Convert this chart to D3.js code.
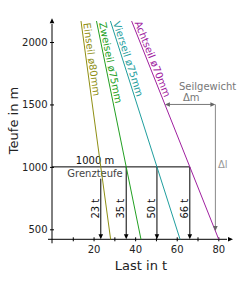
<!DOCTYPE html>
<meta charset="utf-8">
<style>
body { margin: 0; background: #fff; }
text { font-family: "DejaVu Sans", sans-serif; }
</style>
<svg width="250" height="292"></svg>
<script src="https://cdn.jsdelivr.net/npm/d3@7"></script>
<script>

// rope lines: load (t) at the top end and at the axis end
var ropes = ["Einseil ø80mm", "Zweiseil ø75mm", "Vierseil ø75mm", "Achtseil ø70mm"],
    colors = ["#8f8f14", "#22a022", "#1f9e9e", "#a020a0"],
    loadTop = [13.95, 21.4, 28.1, 38.3],
    loadBottom = [28.2, 42.8, 61.6, 80.2],
    depthTop = 2168,
    depthBottom = 420;

var limitDepth = 1000,
    limitLabels = ["23 t", "35 t", "50 t", "66 t"];

var yTicks = [500, 1000, 1500, 2000],
    xTicks = [10, 20, 30, 40, 50, 60, 70, 80],
    xLabels = [20, 40, 60, 80];

// slope triangle on the Achtseil line
var slopeDepth = 1500,
    slopeLoad = 78.6;

var svg = d3.select("svg");

var x = d3.scaleLinear().domain([0, 80]).range([52, 218.3]),
    y = d3.scaleLinear().domain([420, 2190]).range([239.3, 18.3]);

function loadAt(i, d) {
  return loadBottom[i] + (loadTop[i] - loadBottom[i]) * (d - depthBottom) / (depthTop - depthBottom);
}
function depthAt(i, l) {
  return depthBottom + (depthTop - depthBottom) * (l - loadBottom[i]) / (loadTop[i] - loadBottom[i]);
}
function arrowHead(px, py, dir, color) {
  // dir: "down", "up", "left", "right"; (px,py) = tip
  var a = 5, b = 2.3, p;
  if (dir == "down") p = [[px, py], [px - b, py - a], [px + b, py - a]];
  if (dir == "up") p = [[px, py], [px - b, py + a], [px + b, py + a]];
  if (dir == "right") p = [[px, py], [px - a, py - b], [px - a, py + b]];
  if (dir == "left") p = [[px, py], [px + a, py - b], [px + a, py + b]];
  svg.append("path")
      .attr("d", "M" + p.join("L") + "Z")
      .attr("fill", color || "#000");
}

// axes
var yAxis = svg.append("g")
    .attr("transform", "translate(" + x(0) + ",0)")
    .call(d3.axisLeft(y).tickValues(yTicks).tickFormat(d3.format("d")).tickSize(2).tickPadding(2));
yAxis.select(".domain").remove();
yAxis.selectAll(".tick line").attr("x1", -2).attr("x2", 2);
yAxis.selectAll(".tick text")
    .attr("x", -4.5)
    .style("font-family", "DejaVu Sans")
    .style("font-size", "10px")
    .attr("fill", "#222");

var xAxis = svg.append("g")
    .attr("transform", "translate(0," + y(depthBottom) + ")")
    .call(d3.axisBottom(x).tickValues(xTicks)
      .tickFormat(function(d) { return xLabels.indexOf(d) >= 0 ? d : ""; }));
xAxis.select(".domain").remove();
xAxis.selectAll(".tick line").attr("y1", -2).attr("y2", 2);
xAxis.selectAll(".tick text")
    .attr("y", 14.2)
    .attr("dy", 0)
    .style("font-family", "DejaVu Sans")
    .style("font-size", "10px")
    .attr("fill", "#222");

svg.append("line")
    .attr("x1", x(0)).attr("x2", x(0))
    .attr("y1", 243.3).attr("y2", 24)
    .attr("stroke", "#000");
arrowHead(x(0), 18.3, "up");

svg.append("line")
    .attr("x1", 48).attr("x2", 227)
    .attr("y1", y(depthBottom)).attr("y2", y(depthBottom))
    .attr("stroke", "#000");
arrowHead(233, y(depthBottom), "right");

svg.append("text")
    .attr("transform", "translate(17.5,120.5) rotate(-90)")
    .attr("text-anchor", "middle")
    .style("font-size", "13px")
    .attr("fill", "#222")
    .text("Teufe in m");

svg.append("text")
    .attr("x", 141).attr("y", 270)
    .attr("text-anchor", "middle")
    .style("font-size", "13px")
    .attr("fill", "#222")
    .text("Last in t");

// Grenzteufe line and labels
var limitX = ropes.map(function(r, i) { return x(loadAt(i, limitDepth)); });

svg.append("line")
    .attr("x1", x(0)).attr("x2", d3.max(limitX))
    .attr("y1", y(limitDepth)).attr("y2", y(limitDepth))
    .attr("stroke", "#000");

svg.append("text")
    .attr("x", 95).attr("y", y(limitDepth) - 2.7)
    .attr("text-anchor", "middle")
    .style("font-size", "10px")
    .attr("fill", "#111")
    .text("1000 m");

var gLabel = svg.append("text")
    .attr("x", 95).attr("y", y(limitDepth) + 9.8)
    .attr("text-anchor", "middle")
    .style("font-size", "10px")
    .attr("fill", "#444")
    .text("Grenzteufe");
var gBox = gLabel.node().getBBox();

// load arrows
limitX.forEach(function(lx, i) {
  var y0 = y(limitDepth);
  if (lx > gBox.x && lx < gBox.x + gBox.width) y0 = gBox.y + gBox.height;
  svg.append("line")
      .attr("x1", lx).attr("x2", lx)
      .attr("y1", y0).attr("y2", y(depthBottom) - 4)
      .attr("stroke", "#000");
  arrowHead(lx, y(depthBottom), "down");
  svg.append("text")
      .attr("transform", "translate(" + (lx - 1.8) + "," + y(665) + ") rotate(-90)")
      .attr("text-anchor", "middle")
      .style("font-size", "10px")
      .attr("fill", "#111")
      .text(limitLabels[i]);
});

// rope lines with labels
ropes.forEach(function(name, i) {
  var x1 = x(loadTop[i]), y1 = y(depthTop),
      x2 = x(loadBottom[i]), y2 = y(depthBottom);
  svg.append("line")
      .attr("x1", x1).attr("y1", y1)
      .attr("x2", x2).attr("y2", y2)
      .attr("stroke", colors[i]);
  var ang = Math.atan2(y2 - y1, x2 - x1) * 180 / Math.PI;
  svg.append("text")
      .attr("transform", "translate(" + x1 + "," + y1 + ") rotate(" + ang + ")")
      .attr("x", 2.5).attr("y", -2)
      .style("font-size", "10px")
      .attr("fill", colors[i])
      .text(name);
});

// slope triangle (Seilgewicht / Δl)
var k = 3,
    sx1 = x(loadAt(k, slopeDepth)),
    sx2 = x(slopeLoad),
    sy1 = y(slopeDepth),
    sy2 = y(depthAt(k, slopeLoad));

svg.append("line")
    .attr("x1", sx1 + 3).attr("x2", sx2 - 3)
    .attr("y1", sy1).attr("y2", sy1)
    .attr("stroke", "#777");
arrowHead(sx1, sy1, "left", "#666");
arrowHead(sx2, sy1, "right", "#666");

svg.append("line")
    .attr("x1", sx2).attr("x2", sx2)
    .attr("y1", sy1).attr("y2", sy2 - 3)
    .attr("stroke", "#888");
arrowHead(sx2, sy2, "down", "#666");

svg.append("text")
    .attr("x", 179).attr("y", 90)
    .style("font-size", "10px")
    .attr("fill", "#777")
    .text("Seilgewicht");
svg.append("text")
    .attr("x", 183).attr("y", 100.8)
    .style("font-size", "10px")
    .attr("fill", "#777")
    .text("Δm");
svg.append("text")
    .attr("x", 218).attr("y", 168)
    .style("font-size", "10px")
    .attr("fill", "#999")
    .text("Δl");

</script>
